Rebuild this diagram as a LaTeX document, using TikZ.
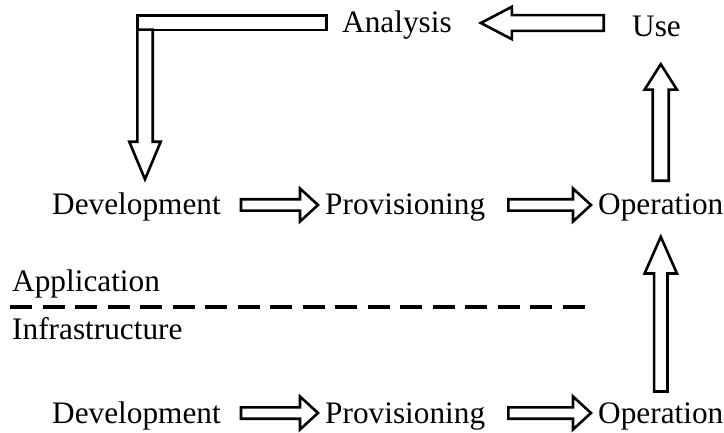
\documentclass[tikz,border=0pt]{standalone}
\usepackage{fontspec}
\setmainfont{Liberation Serif}
\usetikzlibrary{calc}

% Outlined block arrow from #1 to tip #2:
% #3 shaft half-width, #4 head half-width, #5 head length
\newcommand\blockarrow[5]{%
  \coordinate (ba-s) at (#1);
  \coordinate (ba-t) at (#2);
  \coordinate (ba-h) at ($(ba-t)!#5!(ba-s)$);
  \draw[blockline]
    ($(ba-s)!#3!90:(ba-t)$) -- ($(ba-h)!#3!90:(ba-t)$) --
    ($(ba-h)!#4!90:(ba-t)$) -- (ba-t) --
    ($(ba-h)!#4!-90:(ba-t)$) -- ($(ba-h)!#3!-90:(ba-t)$) --
    ($(ba-s)!#3!-90:(ba-t)$) -- cycle;
}

\begin{document}
\begin{tikzpicture}[x=1pt, y=-1pt,
  lbl/.style={inner sep=0pt, anchor=base west, text height=20pt, text depth=0pt,
              font=\fontsize{31.3}{36}\selectfont},
  blockline/.style={draw=black, line width=2.6pt, fill=white, line join=miter},
  sepline/.style={line width=4.3pt, dash pattern=on 22pt off 10.5pt}]
\useasboundingbox (0,0) rectangle (724,433);

% application layer
\node[lbl] (devA)  at (52,215)  {Development};
\node[lbl] (provA) at (325,215) {Provisioning};
\node[lbl] (opA)   at (598,215) {Operation};
% infrastructure layer
\node[lbl] (devI)  at (52,423)  {Development};
\node[lbl] (provI) at (325,423) {Provisioning};
\node[lbl] (opI)   at (598,423) {Operation};
% feedback loop
\node[lbl] (ana) at (342,33) {Analysis};
\node[lbl] (use) at (632,37) {Use};
% layer labels and separator
\node[lbl] (app)   at (12,291) {Application};
\node[lbl] (infra) at (12,340) {Infrastructure};
\coordinate (sepL) at (10,307);
\coordinate (sepR) at (588,307);
\draw[sepline] (sepL) -- (sepR);

% pipeline arrows
\blockarrow{$(devA.east)+(20,0)$}{$(provA.west)+(-7,0)$}{5.7pt}{16.5pt}{18pt}
\blockarrow{$(provA.east)+(23,0)$}{$(opA.west)+(-7,0)$}{5.7pt}{16.5pt}{18pt}
\blockarrow{$(devI.east)+(20,0)$}{$(provI.west)+(-7,0)$}{5.7pt}{16.5pt}{18pt}
\blockarrow{$(provI.east)+(23,0)$}{$(opI.west)+(-7,0)$}{5.7pt}{16.5pt}{18pt}

% infrastructure operation feeds application operation
\blockarrow{$(opI.north)+(0,-11.3)$}{$(opA.south)+(0,21.6)$}{6.7pt}{16.2pt}{36.7pt}
% operation -> use
\blockarrow{$(opA.north)+(0,-14)$}{$(opA.north |- use.south)+(0,27)$}{8pt}{16.2pt}{25.5pt}
% use -> analysis
\blockarrow{$(use.west |- ana.east)+(-28.3,0)$}{$(ana.east)+(28.9,0)$}{7.9pt}{16.2pt}{31pt}

% analysis back to development (bent arrow)
\coordinate (bend) at (145,22.5);
\draw[blockline] ($(bend)+(-7.7,-7.2)$) rectangle ($(ana.west)+(-15.3,7.2)$);
\blockarrow{$(bend)+(0,7.2)$}{$(bend |- devA.north)+(0,-15.5)$}{7.7pt}{15.7pt}{37.5pt}
\end{tikzpicture}
\end{document}
